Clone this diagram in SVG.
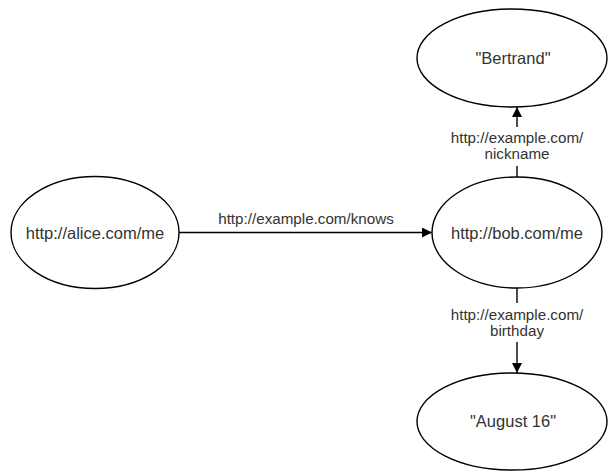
<svg xmlns="http://www.w3.org/2000/svg" width="608" height="472" viewBox="0 0 608 472">
  <style>
    .node ellipse { fill: #ffffff; stroke: #000000; stroke-width: 1.4; }
    .node text { font-family: "Liberation Sans", Arial, sans-serif; font-size: 16.5px; fill: #333333; text-anchor: middle; }
    .edge line { stroke: #000000; stroke-width: 1.4; }
    .lbl { font-family: "Liberation Sans", Arial, sans-serif; font-size: 15.2px; fill: #333333; text-anchor: middle; }
  </style>
  <defs>
    <marker id="arrow" viewBox="0 0 10 10" refX="10" refY="5" markerWidth="11" markerHeight="10" markerUnits="userSpaceOnUse" orient="auto">
      <path d="M0,0 L10,5 L0,10 Z" fill="#000000"/>
    </marker>
  </defs>
  <rect width="608" height="472" fill="#ffffff"/>

  <g id="edges" class="edge">
    <!-- alice knows bob -->
    <line x1="179" y1="232.5" x2="432" y2="232.5" marker-end="url(#arrow)"/>
    <text class="lbl" x="306" y="224">http://example.com/knows</text>

    <!-- bob nickname -->
    <line x1="517" y1="177" x2="517" y2="166"/>
    <line x1="517" y1="127" x2="517" y2="107" marker-end="url(#arrow)"/>
    <text class="lbl" x="517" y="143">http://example.com/</text>
    <text class="lbl" x="517" y="159">nickname</text>

    <!-- bob birthday -->
    <line x1="517" y1="288" x2="517" y2="303"/>
    <line x1="517" y1="342" x2="517" y2="373" marker-end="url(#arrow)"/>
    <text class="lbl" x="517" y="320">http://example.com/</text>
    <text class="lbl" x="517" y="336">birthday</text>
  </g>

  <g id="alice" class="node">
    <ellipse cx="95" cy="232.5" rx="84" ry="56"/>
    <text x="95" y="239">http://alice.com/me</text>
  </g>

  <g id="bob" class="node">
    <ellipse cx="517" cy="232.5" rx="85" ry="55.5"/>
    <text x="517" y="239">http://bob.com/me</text>
  </g>

  <g id="bertrand" class="node">
    <ellipse cx="512" cy="58" rx="95" ry="49"/>
    <text x="513" y="64">"Bertrand"</text>
  </g>

  <g id="august" class="node">
    <ellipse cx="512" cy="421.5" rx="95" ry="48.5"/>
    <text x="513" y="427">"August 16"</text>
  </g>
</svg>
